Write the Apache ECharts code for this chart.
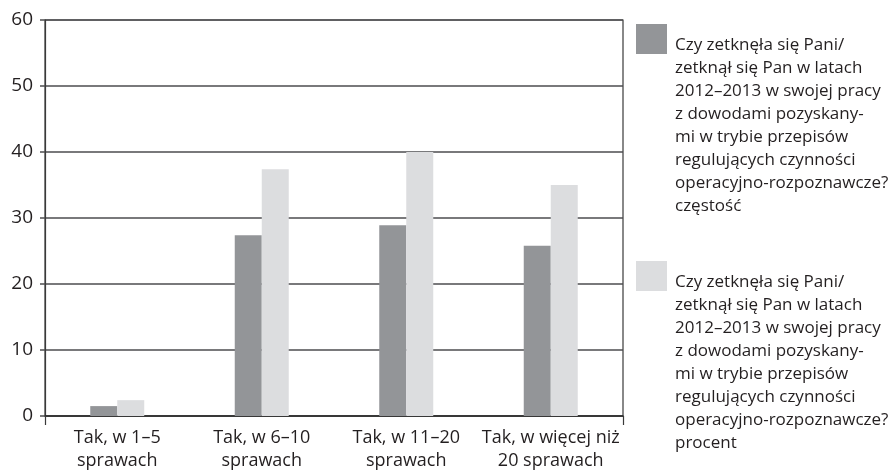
<!DOCTYPE html>
<html>
<head>
<meta charset="utf-8">
<script src="https://cdn.jsdelivr.net/npm/echarts@6/dist/echarts.min.js"></script>
<style>
  html, body { margin: 0; padding: 0; background: #fff; }
  #chart { width: 895px; height: 471px; }
</style>
</head>
<body>
<div id="chart"></div>
<script>
// Categories on the x axis (two-line labels)
const categories = [
  'Tak, w 1–5\nsprawach',
  'Tak, w 6–10\nsprawach',
  'Tak, w 11–20\nsprawach',
  'Tak, w więcej niż\n20 sprawach'
];

// Series values
const frequencyValues = [1.5, 27.4, 28.9, 25.8];
const percentValues = [2.4, 37.4, 40.0, 35.0];

// Y axis ticks
const yTicks = [0, 10, 20, 30, 40, 50, 60];

// Legend text, line by line
const questionLines = [
  'Czy zetknęła się Pani/',
  'zetknął się Pan w latach',
  '2012–2013 w swojej pracy',
  'z dowodami pozyskany-',
  'mi w trybie przepisów',
  'regulujących czynności',
  'operacyjno-rozpoznawcze?'
];
const frequencyName = questionLines.concat(['częstość']).join('\n');
const percentName = questionLines.concat(['procent']).join('\n');

const FONT = '"Open Sans", "Noto Sans", sans-serif';
const TEXT = '#231f20';
const LINE_H = 23;
const LINES = questionLines.length + 1;
const SWATCH_W = 31, SWATCH_H = 30;
// Gap between the swatch top and the top of the first text line
const TEXT_DROP = 10;
// Legend text is centred on the icon box, so the icon box is made tall
// enough for the text to hang from the swatch top; the swatch itself only
// fills the upper part of the box.
const ICON_BOX_H = 2 * (TEXT_DROP + LINES * LINE_H / 2);
const SWATCH_ICON = 'path://M0,0H' + SWATCH_W + 'V' + SWATCH_H + 'H0Z' +
  'M0,' + (ICON_BOX_H - 0.01) + 'H0.01V' + ICON_BOX_H + 'H0Z';

function legendAt(name, swatchTop) {
  return {
    data: [name],
    orient: 'vertical',
    left: 636,
    top: swatchTop,
    padding: 0,
    icon: SWATCH_ICON,
    itemWidth: SWATCH_W,
    itemHeight: ICON_BOX_H,
    selectedMode: false,
    textStyle: {
      fontFamily: FONT,
      fontSize: 17,
      color: TEXT,
      lineHeight: LINE_H,
      padding: [0, 0, 0, 3]
    }
  };
}

const chart = echarts.init(document.getElementById('chart'), null, { renderer: 'canvas' });

chart.setOption({
  animation: false,
  backgroundColor: '#ffffff',
  textStyle: { fontFamily: FONT },
  grid: {
    left: 45,
    right: 272,
    top: 20,
    bottom: 55,
    containLabel: false,
    outerBoundsMode: 'none',
    show: true,
    borderColor: '#3a3a3a',
    borderWidth: 1.2
  },
  legend: [
    legendAt(frequencyName, 24),
    legendAt(percentName, 261)
  ],
  xAxis: {
    type: 'category',
    data: categories,
    boundaryGap: true,
    axisLine: { show: true, lineStyle: { color: '#2b2b2b', width: 1.5 } },
    axisTick: {
      show: true,
      interval: function (i) { return i === 0; },
      length: 9,
      lineStyle: { color: '#3a3a3a', width: 1.2 }
    },
    axisLabel: {
      interval: 0,
      margin: 10,
      fontFamily: FONT,
      fontSize: 18,
      lineHeight: LINE_H,
      color: TEXT
    },
    splitLine: { show: false }
  },
  yAxis: {
    type: 'value',
    min: yTicks[0],
    max: yTicks[yTicks.length - 1],
    interval: yTicks[1] - yTicks[0],
    axisLine: { show: true, lineStyle: { color: '#3a3a3a', width: 1.2 } },
    axisTick: {
      show: true,
      inside: false,
      length: 5,
      lineStyle: { color: '#4d4d4f', width: 1.5 }
    },
    axisLabel: {
      margin: 12,
      fontFamily: FONT,
      fontSize: 19,
      color: TEXT
    },
    splitLine: { show: true, lineStyle: { color: '#4d4d4f', width: 1.5 } }
  },
  series: [
    {
      name: frequencyName,
      type: 'bar',
      data: frequencyValues,
      barWidth: 27,
      barGap: '0%',
      itemStyle: { color: '#939598' }
    },
    {
      name: percentName,
      type: 'bar',
      data: percentValues,
      barWidth: 27,
      barGap: '0%',
      itemStyle: { color: '#dcdddf' }
    }
  ]
});
</script>
</body>
</html>
